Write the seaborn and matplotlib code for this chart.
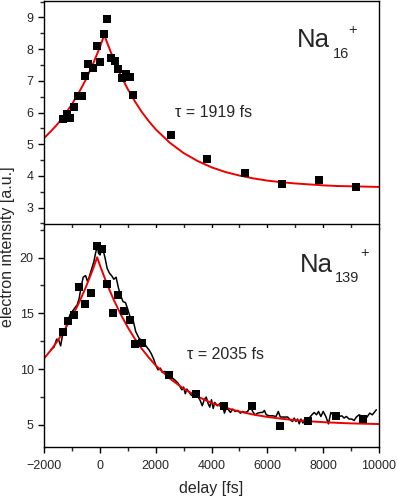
import numpy as np
import pandas as pd
import matplotlib
matplotlib.use("Agg")
import matplotlib.pyplot as plt
import seaborn as sns
from matplotlib.ticker import MultipleLocator

# --- Na16+ : measured points and fit (tau = 1919 fs)
na16_delay = [-1333, -1190, -1071, -917, -798, -655, -524, -417, -262, -119, 0,
              143, 262, 393, 536, 667, 798, 952, 1083, 1202, 2536, 3833, 5190,
              6524, 7857, 9179]
na16_signal = [5.78, 5.96, 5.84, 6.17, 6.51, 6.53, 7.14, 7.53, 7.41, 8.09, 7.61,
               8.48, 8.95, 7.72, 7.64, 7.36, 7.09, 7.20, 7.11, 6.54, 5.30, 4.53,
               4.09, 3.73, 3.86, 3.65]
na16_fit_delay = [-2000, -1750, -1500, -1250, -1000, -750, -500, -250, 0, 160,
                  250, 500, 750, 1000, 1250, 1500, 1750, 2000, 2500, 3000, 3500,
                  4000, 4500, 5000, 5500, 6000, 6500, 7000, 7500, 8000, 8500,
                  9000, 9500, 10000]
na16_fit = [5.19, 5.41, 5.65, 5.94, 6.26, 6.63, 7.04, 7.52, 8.06, 8.45,
            8.23, 7.67, 7.17, 6.74, 6.36, 6.02, 5.73, 5.47, 5.05, 4.72, 4.47,
            4.27, 4.12, 4.01, 3.92, 3.85, 3.80, 3.76, 3.73, 3.70, 3.68,
            3.67, 3.66, 3.65]

# --- Na139+ : measured points, raw trace and fit (tau = 2035 fs)
na139_delay = [-1333, -1131, -917, -738, -524, -333, -119, 83, 274, 476, 667,
               869, 1083, 1274, 1500, 2464, 3452, 4464, 5452, 6440, 7452,
               8452, 9440]
na139_signal = [13.36, 14.32, 14.86, 17.40, 15.85, 16.80, 21.05, 20.75, 17.60,
                15.07, 16.65, 15.22, 14.41, 12.26, 12.38, 9.48, 7.78, 6.70,
                6.64, 4.91, 5.35, 5.77, 5.51]
trace_delay = [-1761, -1643, -1546, -1475, -1404, -1346, -1261, -1168, -1071,
               -989, -904, -811, -739, -668, -596, -511, -439, -368, -286,
               -214, -154, -96, -46, 11, 61, 118, 189, 261, 346, 429, 500,
               582, 668, 750, 832, 918, 1000, 1071, 1189, 1286, 1404, 1546,
               1668, 1761, 1846, 1929, 2000, 2082, 2168, 2239, 2321, 2439,
               2561, 2679, 2796, 2882, 2939, 3000, 3061, 3118, 3189, 3275,
               3393, 3511, 3596, 3668, 3739, 3811, 3882, 3939, 4000, 4061,
               4118, 4204, 4321, 4404, 4464, 4536, 4607, 4679, 4761, 4846,
               4939, 5036, 5118, 5204, 5296, 5393, 5475, 5561, 5654, 5750,
               5832, 5893, 5964, 6071, 6189, 6311, 6393, 6464, 6607, 6725,
               6821, 6904, 6964, 7025, 7082, 7143, 7204, 7275, 7321, 7404,
               7500, 7596, 7679, 7761, 7832, 7918, 8000, 8096, 8189, 8275,
               8357, 8454, 8571, 8668, 8750, 8832, 8929, 9025, 9107, 9189,
               9286, 9404, 9500, 9582, 9668, 9761, 9857, 9904]
trace_signal = [11.72, 11.96, 12.68, 12.62, 12.08, 12.91, 13.36, 14.12, 14.86,
                15.16, 15.46, 15.76, 16.36, 17.40, 18.24, 18.39, 17.85, 18.36,
                19.05, 19.64, 20.39, 21.05, 20.39, 20.24, 20.93, 20.69, 19.95,
                19.05, 18.60, 18.36, 18.06, 18.24, 17.26, 16.57, 16.05, 15.96,
                15.37, 14.77, 14.41, 13.36, 12.77, 12.47, 12.02, 11.72, 11.36,
                10.89, 10.38, 9.93, 10.08, 9.69, 9.78, 9.48, 9.27, 9.03, 8.74,
                8.38, 8.13, 8.38, 7.78, 8.20, 7.96, 7.66, 7.53, 7.53, 7.17,
                6.70, 7.24, 7.48, 6.88, 6.58, 7.24, 6.46, 7.00, 6.70, 6.94,
                6.64, 6.04, 6.58, 6.34, 6.10, 6.40, 6.19, 6.28, 6.04, 6.19,
                6.10, 6.19, 6.64, 6.19, 5.89, 6.04, 6.10, 6.10, 6.28, 5.89,
                5.80, 5.80, 5.74, 6.19, 5.69, 5.69, 5.69, 5.44, 5.29, 5.60,
                5.29, 5.51, 5.08, 5.51, 5.15, 5.44, 5.29, 5.60, 5.89, 6.10,
                5.89, 6.19, 5.74, 6.19, 5.74, 5.08, 6.10, 5.89, 6.04, 5.74,
                5.80, 5.60, 5.74, 5.51, 5.51, 5.38, 5.69, 5.89, 5.74, 5.44,
                5.74, 6.04, 5.89, 6.19, 6.34]
na139_fit_delay = [-2000, -1750, -1500, -1250, -1000, -750, -500, -250, -96,
                   0, 250, 500, 750, 1000, 1250, 1500, 1750, 2000, 2500, 3000,
                   3500, 4000, 4500, 5000, 5500, 6000, 6500, 7000, 7500, 8000,
                   8500, 9000, 9500, 10000]
na139_fit = [10.94, 11.71, 12.58, 13.56, 14.67, 15.93, 17.35, 18.94, 20.03,
             19.33, 17.67, 16.20, 14.90, 13.75, 12.73, 11.83, 11.04, 10.33,
             9.16, 8.24, 7.53, 6.96, 6.53, 6.18, 5.91, 5.70, 5.54, 5.41, 5.31,
             5.23, 5.17, 5.12, 5.09, 5.06]

sns.set_style("ticks")
plt.rcParams['font.family'] = ['Liberation Sans', 'DejaVu Sans']
plt.rcParams['axes.linewidth'] = 1.0

fig = plt.figure(figsize=(3.97, 5.0), dpi=100)
ax1 = fig.add_axes([44 / 397, 1 - 224 / 500, 335 / 397, 223 / 500])
ax2 = fig.add_axes([44 / 397, 1 - 447 / 500, 335 / 397, 219 / 500])

red = '#ee0000'
# top panel
sns.lineplot(x=na16_fit_delay, y=na16_fit, ax=ax1, color=red, lw=1.4, sort=False)
sns.scatterplot(x=na16_delay, y=na16_signal, ax=ax1, marker='s', s=34,
                color='black', edgecolor='black', linewidth=0, zorder=3)
# bottom panel
sns.lineplot(x=trace_delay, y=trace_signal, ax=ax2, color='black', lw=1.1, sort=False)
sns.lineplot(x=na139_fit_delay, y=na139_fit, ax=ax2, color=red, lw=1.4, sort=False)
sns.scatterplot(x=na139_delay, y=na139_signal, ax=ax2, marker='s', s=34,
                color='black', edgecolor='black', linewidth=0, zorder=3)

for ax in (ax1, ax2):
    ax.set_xlim(-2000, 10000)
    ax.xaxis.set_major_locator(MultipleLocator(2000))
    ax.xaxis.set_minor_locator(MultipleLocator(1000))
    ax.tick_params(which='major', direction='out', length=4.5, width=1.0,
                   labelsize=9, pad=3, color='black')
    ax.tick_params(which='minor', direction='out', length=2.8, width=1.0)
    for s in ax.spines.values():
        s.set_color('black')
    ax.set_xlabel('')
    ax.set_ylabel('')

ax1.set_ylim(2.48, 9.52)
ax1.yaxis.set_major_locator(MultipleLocator(1))
ax1.yaxis.set_minor_locator(MultipleLocator(0.5))
ax1.tick_params(axis='x', labelbottom=False)

ax2.set_ylim(3.0, 22.66)
ax2.yaxis.set_major_locator(MultipleLocator(5))
ax2.yaxis.set_minor_locator(MultipleLocator(2.5))
ax2.spines['top'].set_visible(False)
ax2.tick_params(axis='x', pad=5)
ax2.set_xlabel('delay [fs]', fontsize=11.5, labelpad=6)

fig.text(8 / 397, 1 - 247 / 500, 'electron intensity [a.u.]', rotation=90,
         ha='center', va='center', fontsize=11.5)

# cluster labels
ax1.text(0.755, 0.792, 'Na', transform=ax1.transAxes, fontsize=18.5, ha='left', va='baseline')
ax1.text(0.862, 0.746, '16', transform=ax1.transAxes, fontsize=10.5, ha='left', va='baseline')
ax1.text(0.922, 0.870, '+', transform=ax1.transAxes, fontsize=10.5, ha='center', va='center')
ax2.text(0.764, 0.800, 'Na', transform=ax2.transAxes, fontsize=18.5, ha='left', va='baseline')
ax2.text(0.869, 0.755, '139', transform=ax2.transAxes, fontsize=10.5, ha='left', va='baseline')
ax2.text(0.958, 0.886, '+', transform=ax2.transAxes, fontsize=10.5, ha='center', va='center')

ax1.text(0.391, 0.478, '\u03c4 = 1919 fs', transform=ax1.transAxes, fontsize=11.5,
         ha='left', va='baseline')
ax2.text(0.427, 0.402, '\u03c4 = 2035 fs', transform=ax2.transAxes, fontsize=11.5,
         ha='left', va='baseline')

fig.savefig('out.png', dpi=100)
